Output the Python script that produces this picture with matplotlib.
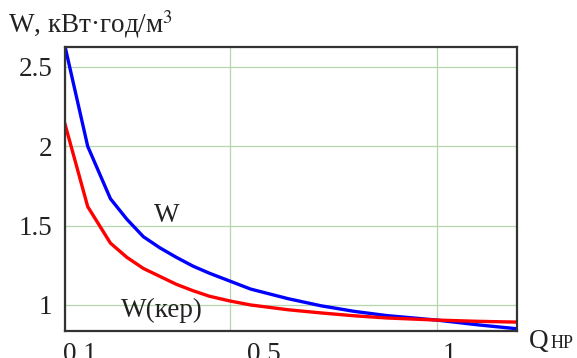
import matplotlib.pyplot as plt
import matplotlib.transforms as mtransforms

plt.rcParams['font.family'] = ['Liberation Serif', 'DejaVu Serif']
plt.rcParams['mathtext.fontset'] = 'stix'

# data
q = [0.1, 0.155, 0.21, 0.25, 0.29, 0.33, 0.37, 0.41, 0.45, 0.5, 0.55,
     0.64, 0.72, 0.8, 0.88, 1.0, 1.1, 1.195]
w = [2.63, 2.0, 1.67, 1.54, 1.43, 1.36, 1.30, 1.245, 1.20, 1.15, 1.10,
     1.04, 0.995, 0.96, 0.933, 0.905, 0.875, 0.85]
w_ker = [2.14, 1.62, 1.39, 1.30, 1.23, 1.18, 1.13, 1.09, 1.055, 1.025, 1.0,
         0.97, 0.95, 0.932, 0.918, 0.905, 0.897, 0.892]

xticks = [0.1, 0.5, 1]
xticklabels = ["0.1", "0.5", "1"]
yticks = [1, 1.5, 2, 2.5]
yticklabels = ["1", "1.5", "2", "2.5"]

fs = 19.5
txt = '#222222'

fig = plt.figure(figsize=(5.77, 3.58), dpi=100)
ax = fig.add_axes([65 / 577, 27 / 358, 452 / 577, 284 / 358])

ax.plot(q, w, color='#0000ff', lw=2.4)
ax.plot(q, w_ker, color='#ff0000', lw=2.4)

ax.set_xlim(0.1, 1.195)
ax.set_ylim(0.836, 2.626)

ax.set_xticks(xticks)
ax.set_xticklabels(xticklabels, fontsize=fs)
ax.set_yticks(yticks)
ax.set_yticklabels(yticklabels, fontsize=fs)
ax.tick_params(axis='both', length=0, colors=txt)
ax.tick_params(axis='y', pad=9)
ax.tick_params(axis='x', pad=8)

# tick labels in the original sit a bit right of their grid lines
shifts = [15, 34, 13]
for lab, dx in zip(ax.get_xticklabels(), shifts):
    off = mtransforms.ScaledTranslation(dx / 100, 0, fig.dpi_scale_trans)
    lab.set_transform(lab.get_transform() + off)

ax.grid(True, color='#b5d6ae', lw=0.9)
ax.set_axisbelow(True)
for s in ax.spines.values():
    s.set_color('#333333')
    s.set_linewidth(1.6)

ax.text(0.347, 1.52, "W", fontsize=fs, ha='center', va='baseline', color=txt)
ax.text(0.335, 0.924, "W(кер)", fontsize=fs, ha='center', va='baseline', color=txt)

fig.text(8 / 577, 1 - 33 / 358, "W, кВт·год/м$^3$", fontsize=fs, ha='left',
         va='baseline', color=txt)
fig.text(529 / 577, 1 - 348 / 358, "Q", fontsize=fs, ha='left', va='baseline', color=txt)
fig.text(551 / 577, 1 - 348 / 358, "НР", fontsize=13, ha='left', va='baseline', color=txt)

plt.savefig("out.png", dpi=100)
plt.close()
